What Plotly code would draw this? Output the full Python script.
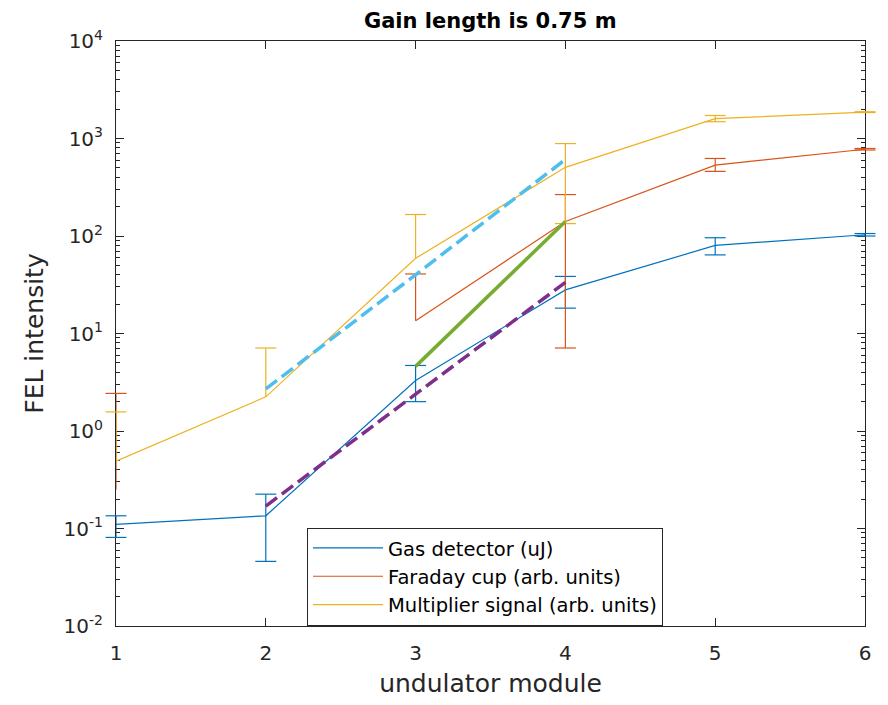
import plotly.graph_objects as go

# ---------------- data ----------------
modules = [1, 2, 3, 4, 5, 6]

gas = [0.11, 0.135, 3.3, 28, 80, 103]
gas_hi = [0.135, 0.225, 4.7, 38.5, 96, 106]
gas_lo = [0.081, 0.046, 2.0, 18.2, 64, 100]

faraday = [0.25, None, 13.5, 141, 533, 776]
faraday_hi = [2.43, None, 40.8, 266, 624, 790]
faraday_lo = [None, None, None, 7.1, 460, 762]

multiplier = [0.49, 2.24, 59, 506, 1596, 1864]
multiplier_hi = [1.57, 7.1, 166, 887, 1722, 1880]
multiplier_lo = [None, None, None, 134, 1486, 1848]

fit_mult_x = [2, 3, 4]
fit_mult_y = [2.7, 40, 610]
fit_far_x = [3, 4]
fit_far_y = [4.6, 141]
fit_gas_x = [2, 3, 4]
fit_gas_y = [0.17, 2.4, 33.5]

series_names = ["Gas detector (uJ)", "Faraday cup (arb. units)", "Multiplier signal (arb. units)"]
colors = ["#0072BD", "#D95319", "#EDB120"]

ytick_vals = [1e-2, 1e-1, 1, 10, 100, 1000, 1e4]
ytick_text = ["10<sup>-2</sup>", "10<sup>-1</sup>", "10<sup>0</sup>", "10<sup>1</sup>",
              "10<sup>2</sup>", "10<sup>3</sup>", "10<sup>4</sup>"]
xtick_vals = [1, 2, 3, 4, 5, 6]

FONT = "DejaVu Sans"
TXT = "#262626"

fig = go.Figure()

series = [(gas, gas_hi, gas_lo), (faraday, faraday_hi, faraday_lo),
          (multiplier, multiplier_hi, multiplier_lo)]

for name, col, (vals, hi, lo) in zip(series_names, colors, series):
    # main line
    fig.add_trace(go.Scatter(x=modules, y=vals, mode="lines", name=name,
                             line=dict(color=col, width=1.2), connectgaps=False))
    # error bar stems
    sx, sy, cx, cy = [], [], [], []
    for xi, v, h, l in zip(modules, vals, hi, lo):
        if v is None:
            continue
        bottom = l if l is not None else v
        sx += [xi, xi, None]
        sy += [bottom, h, None]
        cx.append(xi); cy.append(h)
        if l is not None:
            cx.append(xi); cy.append(l)
    fig.add_trace(go.Scatter(x=sx, y=sy, mode="lines", showlegend=False,
                             line=dict(color=col, width=1.2), hoverinfo="skip"))
    fig.add_trace(go.Scatter(x=cx, y=cy, mode="markers", showlegend=False, cliponaxis=False,
                             marker=dict(symbol="line-ew", size=15,
                                         line=dict(color=col, width=1.2)),
                             hoverinfo="skip"))

# fit lines
fig.add_trace(go.Scatter(x=fit_mult_x, y=fit_mult_y, mode="lines", showlegend=False,
                         line=dict(color="#4DBEEE", width=3.5, dash="14px,6px")))
fig.add_trace(go.Scatter(x=fit_far_x, y=fit_far_y, mode="lines", showlegend=False,
                         line=dict(color="#77AC30", width=3.5)))
fig.add_trace(go.Scatter(x=fit_gas_x, y=fit_gas_y, mode="lines", showlegend=False,
                         line=dict(color="#7E2F8E", width=3.5, dash="14px,6px")))

fig.update_layout(
    width=880, height=697,
    margin=dict(l=108, r=23, t=33, b=75),
    paper_bgcolor="white", plot_bgcolor="white",
    font=dict(family=FONT, color=TXT),
    title=dict(text="<b>Gain length is 0.75 m</b>", x=0.548, xanchor="center",
               y=0.982, yanchor="middle", font=dict(size=21, color="#000000")),
    showlegend=True,
    legend=dict(x=0.255, y=0.168, xanchor="left", yanchor="top",
                bgcolor="white", bordercolor=TXT, borderwidth=1,
                font=dict(size=19.5, color="#000000"), itemwidth=70,
                tracegroupgap=0),
)

fig.update_xaxes(
    range=[1, 6], tickvals=xtick_vals, ticks="inside", ticklen=8, tickcolor=TXT,
    showline=True, linecolor=TXT, linewidth=1, mirror="ticks", showgrid=False,
    zeroline=False, tickfont=dict(size=20, color=TXT), ticklabelstandoff=9,
    title=dict(text="undulator module", font=dict(size=25, color=TXT), standoff=10),
    layer="below traces",
)
fig.update_yaxes(
    type="log", range=[-2, 4], tickvals=ytick_vals, ticktext=ytick_text,
    ticks="inside", ticklen=8, tickcolor=TXT,
    showline=True, linecolor=TXT, linewidth=1, mirror="ticks", showgrid=False,
    zeroline=False, tickfont=dict(size=20, color=TXT), ticklabelstandoff=8,
    minor=dict(ticks="inside", ticklen=4, tickcolor=TXT, dtick="D1", showgrid=False),
    title=dict(text="FEL intensity", font=dict(size=25, color=TXT), standoff=12),
    layer="below traces",
)

fig.write_html("out.html")
